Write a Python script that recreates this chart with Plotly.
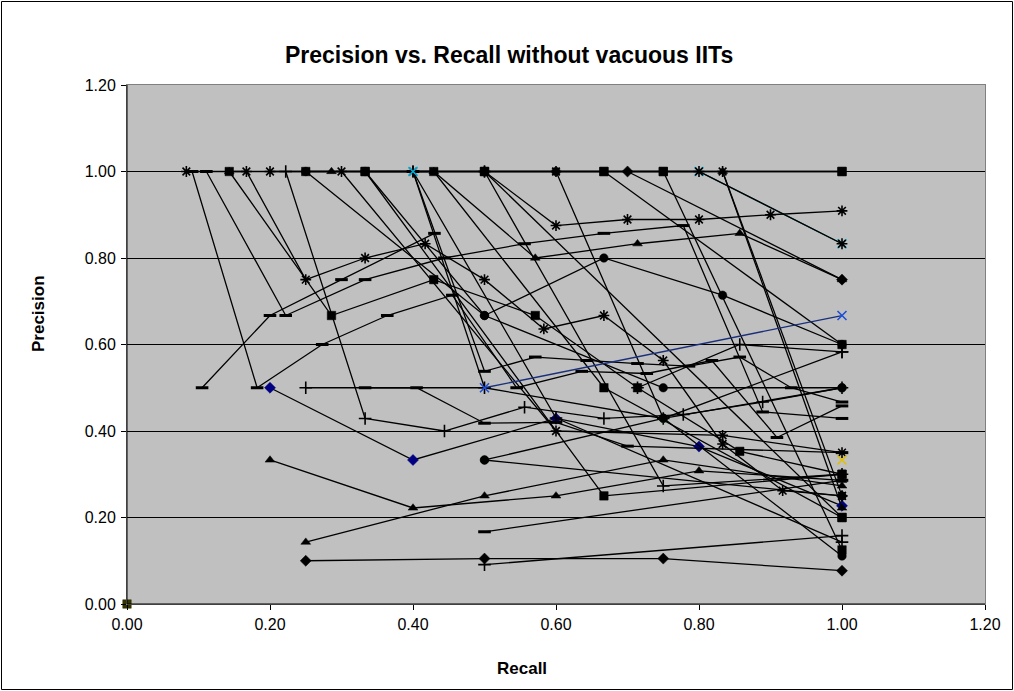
import plotly.graph_objects as go

# ---------------- data (recall, precision) ----------------
r01 = [0.2, 0.4, 0.6, 0.8, 1.0];            p01 = [0.5, 0.333, 0.429, 0.364, 0.227]
r02 = [0.0];                                 p02 = [0.0]
r03 = [0.4, 0.5, 1.0];                       p03 = [1.0, 0.5, 0.667]
r04 = [0.8, 1.0];                            p04 = [1.0, 0.833]
r05 = [0.091, 0.182, 0.273, 0.364, 0.455, 0.545, 0.636, 0.727, 0.818, 0.909, 1.0]
p05 = [1.0, 0.5, 0.6, 0.667, 0.714, 0.5, 0.538, 0.533, 0.563, 0.385, 0.458]
r06 = [0.105, 0.2, 0.3, 0.43];              p06 = [0.5, 0.667, 0.75, 0.857]
r07 = [0.111, 0.222, 0.333, 0.444, 0.556, 0.667, 0.778, 0.889, 1.0]
p07 = [1.0, 0.667, 0.75, 0.8, 0.833, 0.857, 0.875, 0.444, 0.429]
r08 = [0.143, 0.286, 0.429, 0.571, 0.714, 0.857, 1.0]
p08 = [1.0, 0.667, 0.75, 0.667, 0.5, 0.353, 0.3]
r09 = [0.083, 0.167, 0.25, 0.333, 0.417, 0.5, 0.583, 0.667, 0.75, 0.833, 0.917, 1.0]
p09 = [1.0, 1.0, 0.75, 0.8, 0.833, 0.75, 0.636, 0.667, 0.563, 0.37, 0.262, 0.25]
r10 = [0.143, 0.286, 0.429, 0.571, 0.714, 0.857, 1.0]
p10 = [1.0, 1.0, 1.0, 0.8, 0.833, 0.857, 0.75]
r11 = [0.333, 0.5, 0.667, 0.833, 1.0];      p11 = [1.0, 0.667, 0.8, 0.714, 0.6]
r12 = [0.5, 0.6, 0.7, 0.8, 0.9, 1.0];       p12 = [1.0, 0.875, 0.889, 0.889, 0.9, 0.909]
r13 = [0.7, 1.0];                            p13 = [1.0, 0.75]
r14 = [0.25, 0.5, 0.75, 1.0];               p14 = [1.0, 1.0, 1.0, 1.0]
r15 = [0.333, 0.667, 1.0];                  p15 = [1.0, 1.0, 1.0]
r16 = [0.2, 0.4, 0.6, 0.8, 1.0];            p16 = [1.0, 1.0, 1.0, 1.0, 0.833]
r17 = [0.222, 0.333, 0.444, 0.556, 0.667, 0.778, 0.889, 1.0]
p17 = [1.0, 0.429, 0.4, 0.455, 0.429, 0.438, 0.467, 0.5]
r18 = [0.25, 0.5, 0.75, 1.0];               p18 = [0.5, 0.5, 0.429, 0.583]
r19 = [0.5, 0.75, 1.0];                     p19 = [0.333, 0.429, 0.5]
r20 = [0.25, 0.5, 0.75, 1.0];               p20 = [1.0, 0.667, 0.5, 0.5]
r21 = [0.5, 1.0];                            p21 = [0.333, 0.25]
r22 = [0.2, 0.4, 0.6, 0.8, 1.0];            p22 = [0.333, 0.222, 0.25, 0.308, 0.286]
r23 = [0.25, 0.5, 0.75, 1.0];               p23 = [0.143, 0.25, 0.333, 0.273]
r24 = [0.25, 0.5, 0.75, 1.0];               p24 = [0.1, 0.105, 0.105, 0.077]
r25 = [0.5, 1.0];                            p25 = [0.091, 0.158]
r26 = [0.5, 1.0];                            p26 = [0.167, 0.286]
r27 = [0.333, 0.667, 1.0];                  p27 = [1.0, 0.25, 0.3]
r30 = [0.5, 0.75, 1.0];                     p30 = [1.0, 0.273, 0.3]
r32 = [0.333, 0.405, 0.5, 0.6, 0.7, 1.0];   p32 = [0.5, 0.5, 0.418, 0.42, 0.365, 0.35]
r33 = [0.3, 0.6, 0.833, 1.0];               p33 = [1.0, 0.4, 0.39, 0.35]
r34 = [0.429, 0.667, 1.0];                  p34 = [1.0, 0.5, 0.2]
r35 = [0.6, 0.75, 1.0];                     p35 = [1.0, 0.43, 0.111]
r36 = [0.667, 1.0];                          p36 = [1.0, 0.6]
r37 = [0.833, 1.0];                          p37 = [1.0, 0.222]
r38 = [0.833, 1.0];                          p38 = [1.0, 0.25]
r39 = [0.75, 1.0];                           p39 = [1.0, 0.125]
r40 = [0.5, 1.0];                            p40 = [1.0, 0.2]
r41 = [0.4, 0.6, 1.0];                       p41 = [1.0, 0.43, 0.143]
r42 = [0.714, 0.857, 1.0];                  p42 = [0.5, 0.6, 0.583]
r43 = [0.4, 0.5, 0.571, 0.643, 0.714, 0.786, 0.857, 0.929, 1.0]
p43 = [1.0, 0.538, 0.571, 0.563, 0.556, 0.55, 0.571, 0.5, 0.467]
yellow_r = [1.0];                            yellow_p = [0.333]

# ---------------- styles ----------------
series = [
    (r01, p01, "diamond", "#000080", "#000000"),
    (r02, p02, "square", "#333300", "#333300"),
    (r04, p04, "x-thin", "#00b0e0", "#0b5560"),
    (r05, p05, "line-ew", "#000000", "#000000"),
    (r06, p06, "line-ew", "#000000", "#000000"),
    (r07, p07, "line-ew", "#000000", "#000000"),
    (r08, p08, "square", "#000000", "#000000"),
    (r09, p09, "asterisk", "#000000", "#000000"),
    (r10, p10, "triangle-up", "#000000", "#000000"),
    (r11, p11, "circle", "#000000", "#000000"),
    (r12, p12, "asterisk", "#000000", "#000000"),
    (r13, p13, "diamond", "#000000", "#000000"),
    (r14, p14, "square", "#000000", "#000000"),
    (r15, p15, "square", "#000000", "#000000"),
    (r16, p16, "asterisk", "#000000", "#000000"),
    (r17, p17, "cross-thin", "#000000", "#000000"),
    (r18, p18, "cross-thin", "#000000", "#000000"),
    (r19, p19, "circle", "#003300", "#000000"),
    (r20, p20, "circle", "#000000", "#000000"),
    (r21, p21, "circle", "#000000", "#000000"),
    (r22, p22, "triangle-up", "#000000", "#000000"),
    (r23, p23, "triangle-up", "#000000", "#000000"),
    (r24, p24, "diamond", "#000000", "#000000"),
    (r25, p25, "cross-thin", "#000000", "#000000"),
    (r26, p26, "line-ew", "#000000", "#000000"),
    (r27, p27, "square", "#000000", "#000000"),
    (r30, p30, "cross-thin", "#000000", "#000000"),
    (r32, p32, "line-ew", "#000000", "#000000"),
    (r33, p33, "asterisk", "#000000", "#000000"),
    (r34, p34, "square", "#000000", "#000000"),
    (r35, p35, "circle", "#000000", "#000000"),
    (r36, p36, "square", "#000000", "#000000"),
    (r37, p37, "triangle-up", "#000000", "#000000"),
    (r38, p38, "asterisk", "#000000", "#000000"),
    (r39, p39, "square", "#000000", "#000000"),
    (r40, p40, "square", "#000000", "#000000"),
    (r41, p41, "cross-thin", "#000000", "#000000"),
    (r42, p42, "cross-thin", "#000000", "#000000"),
    (r43, p43, "line-ew", "#000000", "#000000"),
]

LINE_ONLY = {"x-thin", "cross-thin", "asterisk", "line-ew"}


def make_marker(sym, col):
    if sym in LINE_ONLY:
        return dict(symbol=sym, size=9, color=col,
                    line=dict(color=col, width=3 if sym == "line-ew" else 1.6))
    return dict(symbol=sym, size=8.5, color=col, line=dict(color=col, width=0.5))


fig = go.Figure()
for rx, py, sym, mcol, lcol in series:
    fig.add_trace(go.Scatter(x=rx, y=py, mode="lines+markers",
                             line=dict(color=lcol, width=1.3),
                             marker=make_marker(sym, mcol),
                             cliponaxis=False, showlegend=False))

# series whose last segment is drawn in blue
fig.add_trace(go.Scatter(x=r03[:2], y=p03[:2], mode="lines",
                         line=dict(color="#000000", width=1.3), showlegend=False))
fig.add_trace(go.Scatter(x=r03[1:], y=p03[1:], mode="lines+markers",
                         line=dict(color="#1a2f7a", width=1.3),
                         marker=make_marker("x-thin", "#1f4fd8"), showlegend=False))
fig.add_trace(go.Scatter(x=r03[:1], y=p03[:1], mode="markers",
                         marker=make_marker("x-thin", "#00b0e0"), showlegend=False))
fig.add_trace(go.Scatter(x=yellow_r, y=yellow_p, mode="markers",
                         marker=make_marker("x-thin", "#e0c000"), showlegend=False,
                         cliponaxis=False))

W, H = 1014, 691
L, R, T, B = 127, 29, 85, 87
pw, ph = W - L - R, H - T - B


def px(x):
    return (x - L) / pw


def py_(y):
    return (H - B - y) / ph


FONT = "Liberation Sans, Arial, sans-serif"

fig.update_layout(
    width=W, height=H,
    margin=dict(l=L, r=R, t=T, b=B),
    paper_bgcolor="white", plot_bgcolor="#C0C0C0",
    font=dict(family=FONT, size=16, color="black"),
    xaxis=dict(range=[0, 1.2], dtick=0.2, tick0=0, tickformat=".2f",
               showgrid=False, zeroline=False, showline=True, linecolor="#808080",
               ticks="outside", ticklen=5, tickcolor="black",
               ticklabelstandoff=1,
               mirror=True, tickfont=dict(size=16)),
    yaxis=dict(range=[0, 1.2], dtick=0.2, tick0=0, tickformat=".2f",
               showgrid=True, gridcolor="#000000", gridwidth=1, zeroline=False,
               showline=True, linecolor="#808080",
               ticks="outside", ticklen=5, tickcolor="black",
               ticklabelstandoff=2,
               mirror=True, tickfont=dict(size=16)),
    annotations=[
        dict(text="<b>Precision vs. Recall without vacuous IITs</b>",
             xref="paper", yref="paper", x=px(509), y=py_(55),
             xanchor="center", yanchor="middle", showarrow=False,
             font=dict(size=23, family=FONT)),
        dict(text="<b>Recall</b>", xref="paper", yref="paper", x=px(522), y=py_(668),
             xanchor="center", yanchor="middle", showarrow=False,
             font=dict(size=17, family=FONT)),
        dict(text="<b>Precision</b>", xref="paper", yref="paper", x=px(38), y=py_(314),
             xanchor="center", yanchor="middle", showarrow=False, textangle=-90,
             font=dict(size=17, family=FONT)),
    ],
    shapes=[
        dict(type="rect", xref="paper", yref="paper",
             x0=px(1.5), x1=px(1012.5), y0=py_(689.5), y1=py_(1.5),
             line=dict(color="black", width=1), fillcolor="rgba(0,0,0,0)", layer="below"),
        dict(type="line", xref="paper", yref="paper", x0=0, x1=0, y0=0, y1=1,
             line=dict(color="black", width=1)),
        dict(type="line", xref="paper", yref="paper", x0=0, x1=1, y0=0, y1=0,
             line=dict(color="black", width=1)),
    ],
)

fig.write_html("out.html")
